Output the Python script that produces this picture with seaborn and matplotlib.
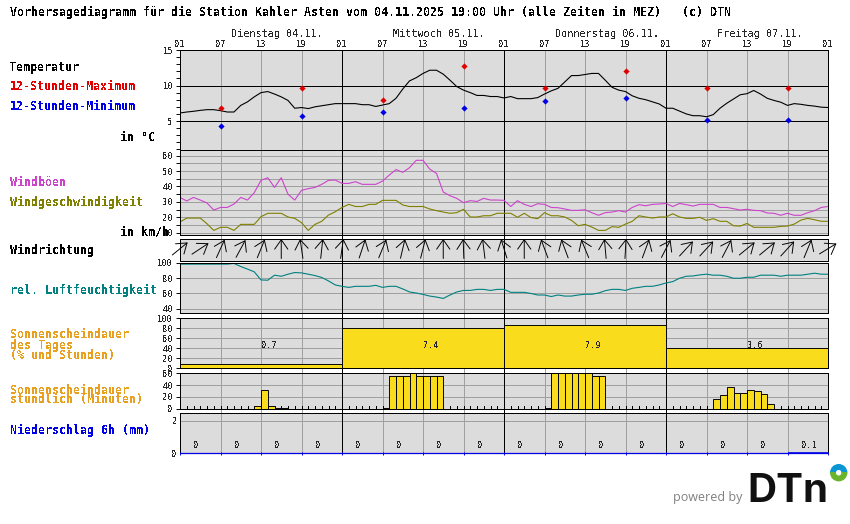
import numpy as np
import pandas as pd
import matplotlib
matplotlib.use("Agg")
import matplotlib.pyplot as plt
from matplotlib.patches import Wedge
import seaborn as sns

# --- values ---
hours = list(range(97))
hour_labels = ["01", "07", "13", "19"] * 4 + ["01"]
day_labels = ["Dienstag 04.11.", "Mittwoch 05.11.", "Donnerstag 06.11.", "Freitag 07.11."]

temperature = [6.13, 6.27, 6.37, 6.5, 6.6, 6.6, 6.46, 6.27, 6.27, 7.2, 7.7, 8.4, 9.0, 9.15, 8.8, 8.4, 7.9, 6.8,
               6.9, 6.75, 7.0, 7.15, 7.3, 7.45, 7.45, 7.45, 7.45, 7.3, 7.3, 7.05, 7.25, 7.45, 8.2, 9.5, 10.65, 11.1,
               11.7, 12.15, 12.15, 11.6, 10.75, 9.85, 9.35, 9.0, 8.6, 8.6, 8.45, 8.45, 8.25, 8.45, 8.15, 8.15, 8.15, 8.3,
               8.8, 9.25, 9.6, 10.5, 11.4, 11.4, 11.55, 11.7, 11.7, 10.75, 9.75, 9.35, 9.15, 8.55, 8.2, 8.0, 7.7, 7.4,
               6.8, 6.8, 6.4, 6.0, 5.75, 5.75, 5.6, 5.9, 6.8, 7.5, 8.1, 8.7, 8.85, 9.3, 8.8, 8.2, 7.9, 7.65,
               7.2, 7.45, 7.35, 7.2, 7.1, 6.95, 6.9]
extreme_hours = [6, 18, 30, 42, 54, 66, 78, 90]
temp_max = [6.9, 9.6, 7.9, 12.7, 9.6, 12.1, 9.6, 9.6]
temp_min = [4.35, 5.75, 6.3, 6.9, 7.75, 8.3, 5.2, 5.2]

gusts = [32.9, 30.6, 32.9, 31.2, 29.3, 24.7, 26.4, 26.4, 28.6, 32.9, 31.2, 36, 44, 45.7, 39.4, 45.7, 35, 31.2,
         37.5, 38.6, 39.4, 41.4, 44, 44.2, 42, 42, 43.1, 41.4, 41.4, 41.4, 43.5, 47.4, 51, 49.2, 52.2, 57,
         57, 51.3, 48.5, 36.4, 34, 32.3, 29.5, 30.8, 30.3, 32.3, 31.2, 31.2, 31, 27, 30.8, 28.4, 27, 28.8,
         28.4, 26.4, 26.2, 25.4, 24.5, 24.5, 24.9, 23, 21.3, 23, 23.4, 24.3, 23.4, 26.4, 28.2, 27.5, 28.4, 28.6,
         29, 27, 29, 28.2, 27.3, 28.4, 28.4, 28.4, 26.4, 26.4, 25.6, 24.7, 25.2, 24.5, 24.3, 22.8, 22.6, 21.3,
         22.6, 21.3, 21.3, 23, 24.3, 26.4, 27]
wind_speed = [16.9, 19.5, 19.5, 19.5, 15.8, 11.5, 13.5, 13.5, 11.5, 15.4, 15.4, 15.4, 20.4, 22.6, 22.6, 22.6, 20.2, 19.3,
              16.5, 11.5, 15.4, 17.4, 21.5, 23.6, 26.4, 28.4, 27, 27, 28.4, 28.4, 31, 31, 31, 28, 27, 27,
              27, 25.4, 24.3, 23.4, 22.6, 23, 25.2, 20.2, 20.2, 21, 21, 22.6, 22.6, 22.6, 20, 22.6, 19.8, 19.1,
              23, 21, 21, 20.2, 18, 14.5, 15.4, 13.7, 11.5, 11.5, 13.9, 13.5, 15.6, 17.4, 21, 20.2, 19.5, 20.2,
              20.2, 22.3, 20.2, 19.3, 19.3, 20, 18, 19.1, 17.4, 17.4, 14.5, 14.3, 16, 13.5, 13.5, 13.5, 13.5, 14.1,
              14.3, 15.6, 18.2, 19.3, 18.4, 17.4, 17.4]
humidity = [98.5, 98.5, 98.5, 98.5, 98.5, 98.5, 98.5, 98.5, 99.4, 95.4, 92, 88.4, 77.8, 77.4, 84, 82.6, 85.3, 87.5,
            87, 85.3, 83.5, 81, 76.5, 71.2, 69.4, 68, 69.4, 69.4, 69.4, 70.7, 68, 69.4, 69.4, 66, 62, 60.6,
            58.8, 56.6, 55.3, 53.5, 58, 62, 64, 64, 65.4, 65.4, 64, 65.4, 65.4, 61.5, 61.5, 61.5, 60, 58,
            58, 56, 58, 56.6, 56.6, 58, 59, 59, 60.6, 63.7, 65.4, 65.4, 64, 66.8, 68, 69.4, 69.4, 71.2,
            73.8, 75.6, 80, 82.6, 83, 84.4, 85.3, 84, 84, 82.6, 80, 80, 81.3, 81.3, 84, 84, 84, 82.6,
            84, 84, 84, 85.3, 86.6, 85.3, 85.3]

arrow_hours = list(range(0, 97, 3))
wind_direction = [50, 56, 24, 28, 22, 0, -8, 6, 8, 18, 22, 13, 14, 0, -2, -7, -17, 0, -20, -20, -22, -5, 3, 20,
                  27, 42, 42, 27, 50, 50, 42, 22, 58]

day_centers = [12, 36, 60, 84]
sun_percent = [8, 80, 86, 40]
sun_hours_text = ["0.7", "7.4", "7.9", "3.6"]

sun_bar_hours = [11, 12, 13, 14, 15, 30, 31, 32, 33, 34, 35, 36, 37, 38,
                 54, 55, 56, 57, 58, 59, 60, 61, 62, 79, 80, 81, 82, 83, 84, 85, 86, 87]
sun_minutes = [3.5, 31, 5, 1.5, 1.5, 1.5, 55, 55, 55, 60, 55, 55, 55, 55,
               1.5, 60, 60, 60, 60, 60, 60, 55, 55, 17, 22.5, 36, 26, 26, 31, 29, 24, 7]

precip_centers = list(range(3, 96, 6))
precip_mm = [0, 0, 0, 0, 0, 0, 0, 0, 0, 0, 0, 0, 0, 0, 0, 0.1]
precip_text = ["0"] * 15 + ["0.1"]

PANEL_GREY = "#dcdcdc"
GRID_GREY = "#a0a0a0"
SUN_YELLOW = "#f9dc1c"
ORANGE = "#e8a020"
LW = 0.68  # just under one pixel at 100 dpi, so aliased lines stay one pixel wide
CURVE_LW = 0.8

sns.set_style("white")
plt.rcParams["text.antialiased"] = False
plt.rcParams["font.family"] = ["DejaVu Sans Mono"]

W, H = 850, 524
LEFT, RIGHT = 180, 828
fig = plt.figure(figsize=(W / 100, H / 100), dpi=100, facecolor="white")


def panel_axes(top, bottom):
    return fig.add_axes([LEFT / W, 1 - bottom / H, (RIGHT - LEFT) / W, (bottom - top) / H])


def style_panel(ax, ylim, ticks=(), labelled=(), grid_color=GRID_GREY):
    ax.set_facecolor(PANEL_GREY)
    ax.set_xlim(0, 96)
    ax.set_ylim(*ylim)
    ax.set_xlabel("")
    ax.set_ylabel("")
    ax.set_xticks(range(6, 96, 6))
    ax.set_xticklabels([])
    ax.set_yticks(list(ticks))
    ax.set_yticklabels([str(t) if t in labelled else "" for t in ticks])
    ax.tick_params(axis="x", length=0)
    ax.tick_params(axis="y", length=3, width=LW, color="black", pad=2, labelsize=6.2, left=True)
    ax.grid(True, axis="x", color=GRID_GREY, linewidth=LW, antialiased=False)
    ax.grid(True, axis="y", color=grid_color, linewidth=LW, antialiased=False)
    ax.set_axisbelow(True)
    for spine in ax.spines.values():
        spine.set_visible(True)
        spine.set_color("black")
        spine.set_linewidth(LW)
        spine.set_antialiased(False)
    ax.vlines([24, 48, 72], *ylim, color="black", linewidth=LW, zorder=0.9, antialiased=False)


# white backing that lets the day lines run through the gaps between panels
ax_back = panel_axes(50, 453.3)
ax_back.set_xlim(0, 96)
ax_back.axis("off")
ax_back.vlines([24, 48, 72], 0, 1, color="black", linewidth=LW, antialiased=False)
ax_back.vlines([h for h in range(6, 96, 6) if h % 24], 0, 1, color=GRID_GREY, linewidth=LW, antialiased=False)

# --- temperature ---
ax = panel_axes(50, 150)
sns.lineplot(x=hours, y=temperature, color="black", linewidth=CURVE_LW, errorbar=None, ax=ax)
sns.scatterplot(x=extreme_hours, y=temp_max, color="#e00000", marker="D", s=10, linewidth=0, ax=ax, zorder=3)
sns.scatterplot(x=extreme_hours, y=temp_min, color="#0000e6", marker="D", s=10, linewidth=0, ax=ax, zorder=3)
style_panel(ax, (0.92, 15), range(1, 16), (5, 10, 15), grid_color="none")
ax.hlines([5, 10], 0, 96, color="black", linewidth=LW, antialiased=False, zorder=1)
ax.set_xticks(range(0, 97, 6))
ax.set_xticklabels(hour_labels)
ax.tick_params(axis="x", labeltop=True, labelbottom=False, labelsize=6.2, pad=1)
for i, label in enumerate(day_labels):
    ax.text(7.5 + 24 * i, 15 + 11 / 7.1, label, fontsize=7.3, va="bottom")

# --- wind ---
ax = panel_axes(150, 235)
sns.lineplot(x=hours, y=gusts, color="#cc44cc", linewidth=CURVE_LW, errorbar=None, ax=ax)
sns.lineplot(x=hours, y=wind_speed, color="#808000", linewidth=CURVE_LW, errorbar=None, ax=ax)
style_panel(ax, (8.5, 63.7), range(10, 65, 5), (10, 20, 30, 40, 50, 60))

# --- wind direction ---
ax = panel_axes(238.5, 260.7)
style_panel(ax, (0, 22.2))
ax.grid(False, axis="y")
ax.tick_params(axis="y", length=0)
wind_table = pd.DataFrame({"hour": arrow_hours, "deg": wind_direction})
for row in wind_table.itertuples():
    theta = np.deg2rad(row.deg)
    dx, dy = 10 * np.sin(theta) / 6.75, 9.8 * np.cos(theta)
    ax.annotate("", xy=(row.hour + dx, 12 + dy), xytext=(row.hour - dx, 12 - dy), annotation_clip=False,
                arrowprops=dict(arrowstyle="->,head_length=0.4,head_width=0.28", mutation_scale=17, color="black",
                                linewidth=LW, shrinkA=0, shrinkB=0))

# --- humidity ---
ax = panel_axes(263, 313.3)
sns.lineplot(x=hours, y=humidity, color="#008080", linewidth=CURVE_LW, errorbar=None, ax=ax)
style_panel(ax, (34, 100), range(40, 101, 20), (40, 60, 80, 100))

# --- daily sunshine ---
ax = panel_axes(318.3, 368.3)
sns.barplot(x=day_centers, y=sun_percent, native_scale=True, width=1, color=SUN_YELLOW, saturation=1,
            edgecolor="black", linewidth=LW, errorbar=None, ax=ax)
style_panel(ax, (0, 100), range(0, 101, 20), (0, 20, 40, 60, 80, 100))
for center, label in zip(day_centers, sun_hours_text):
    ax.text(center, 44.6, label, fontsize=6.2, va="center", ha="left", zorder=5)

# --- hourly sunshine ---
ax = panel_axes(373.3, 408.5)
sns.barplot(x=[h + 0.5 for h in sun_bar_hours], y=sun_minutes, native_scale=True, width=1, color=SUN_YELLOW,
            saturation=1, edgecolor="black", linewidth=LW, errorbar=None, ax=ax)
style_panel(ax, (0, 60), range(0, 61, 20), (0, 20, 40, 60))
ax.vlines(range(1, 96), 0, 5, color="black", linewidth=LW, zorder=0.8, antialiased=False)

# --- precipitation ---
ax = panel_axes(413.3, 453.3)
sns.barplot(x=precip_centers, y=precip_mm, native_scale=True, width=1, color="#2020f0", saturation=1,
            edgecolor="#0000e6", linewidth=0.5, errorbar=None, ax=ax)
style_panel(ax, (0, 2.45), (0, 2), (0, 2))
ax.tick_params(axis="y", length=0)
ax.spines["bottom"].set_visible(False)
ax.hlines(0, 0, 96, color="#0000e6", linewidth=0.9, clip_on=False, zorder=4)
ax.vlines(range(0, 97, 6), -0.08, 0.08, color="#0000e6", linewidth=LW, clip_on=False, zorder=3)
for center, label in zip(precip_centers, precip_text):
    ax.text(center - 0.95, 0.5, label, fontsize=6.2, va="center", ha="left")

# --- text round the panels ---
labels = [
    (10, 12, "Vorhersagediagramm für die Station Kahler Asten vom 04.11.2025 19:00 Uhr (alle Zeiten in MEZ)   (c) DTN", "black"),
    (10, 67, "Temperatur", "black"),
    (10, 87, "12-Stunden-Maximum", "#e00000"),
    (10, 107, "12-Stunden-Minimum", "#0000e6"),
    (120, 137, "in °C", "black"),
    (10, 182, "Windböen", "#cc44cc"),
    (10, 202, "Windgeschwindigkeit", "#808000"),
    (120, 232, "in km/h", "black"),
    (10, 250, "Windrichtung", "black"),
    (10, 290, "rel. Luftfeuchtigkeit", "#008080"),
    (10, 335, "Sonnenscheindauer", ORANGE),
    (10, 345, "des Tages", ORANGE),
    (10, 355, "(% und Stunden)", ORANGE),
    (10, 390, "Sonnenscheindauer", ORANGE),
    (10, 400, "stündlich (Minuten)", ORANGE),
    (10, 430, "Niederschlag 6h (mm)", "#0000e6"),
]
for x, y, text, color in labels:
    fig.text(x / W, 1 - y / H, text, color=color, fontsize=8.37, fontweight="bold", va="center", ha="left")

# --- logo ---
ax_logo = fig.add_axes([0, 0, 1, 1], facecolor="none")
ax_logo.set_xlim(0, W)
ax_logo.set_ylim(0, H)
ax_logo.axis("off")
ax_logo.add_patch(Wedge((838.7, H - 472.7), 8, 0, 180, width=4.5, color="#0a95d5"))
ax_logo.add_patch(Wedge((838.7, H - 472.7), 8, 180, 360, width=4.5, color="#6ab42d"))
ax_logo.text(742, H - 497, "powered by", color="#808080", fontsize=9, family="Open Sans", ha="right", va="center",
             antialiased=True)
ax_logo.text(747, H - 502, "DTn", color="#111111", fontsize=29, family="Inter", fontweight="bold", ha="left",
             va="baseline", antialiased=True)

fig.savefig("out.png", dpi=100)
